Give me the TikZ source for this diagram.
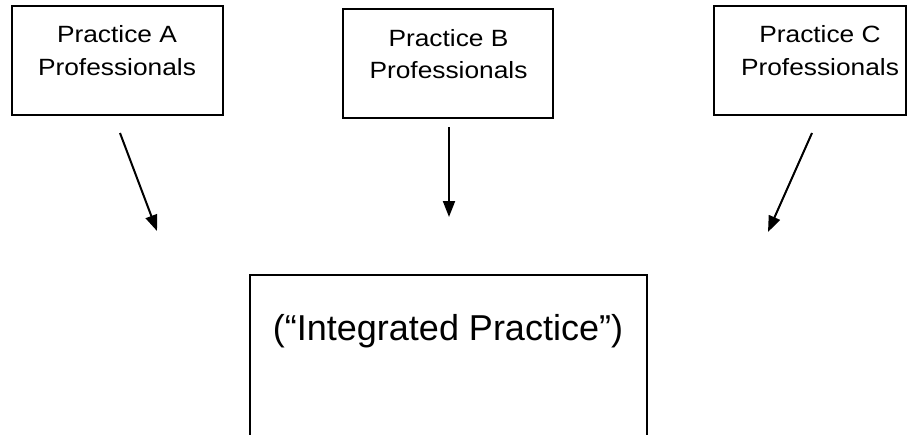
\documentclass[tikz,border=0pt]{standalone}
\usepackage{fontspec}
\setmainfont{Liberation Sans}
\newfontfamily\smallboxfont{Liberation Sans}[FakeStretch=1.12]
\usetikzlibrary{arrows.meta}
\begin{document}
\begin{tikzpicture}[x=1pt,y=-1pt,
  box/.style={draw=black, line width=1.8pt, inner sep=0pt},
  lbl/.style={anchor=base, inner sep=0pt, font=\smallboxfont\fontsize{23.5}{28}\selectfont},
  biglbl/.style={anchor=base, inner sep=0pt, font=\fontsize{36}{40}\selectfont},
  arr/.style={line width=2pt, -{Triangle[length=16pt,width=12pt]}}]
\useasboundingbox (0,0) rectangle (908,434);
\clip (0,0) rectangle (908,434);
% top boxes
\node[box, minimum width=211pt, minimum height=109pt] (A) at (117.5,60.5) {};
\node[lbl] (A1) at (117,42) {Practice A};
\node[lbl] (A2) at (117,75) {Professionals};
\node[box, minimum width=210pt, minimum height=109pt] (B) at (448,63.5) {};
\node[lbl] (B1) at (448.5,46) {Practice B};
\node[lbl] (B2) at (448.5,78.5) {Professionals};
\node[box, minimum width=192pt, minimum height=109pt] (C) at (810,60.5) {};
\node[lbl] (C1) at (820,42) {Practice C};
\node[lbl] (C2) at (820,75) {Professionals};
% bottom box
\node[box, minimum width=397pt, minimum height=185pt] (I) at (448.5,367.5) {};
\node[biglbl] (I1) at (448,340) {(“Integrated Practice”)};
% arrows
\coordinate (As) at (120,133);
\coordinate (Ae) at (157,231);
\coordinate (Bs) at (449,127);
\coordinate (Be) at (449,217);
\coordinate (Cs) at (812,133);
\coordinate (Ce) at (768,232);
\draw[arr] (As) -- (Ae);
\draw[arr] (Bs) -- (Be);
\draw[arr] (Cs) -- (Ce);
\end{tikzpicture}
\end{document}
